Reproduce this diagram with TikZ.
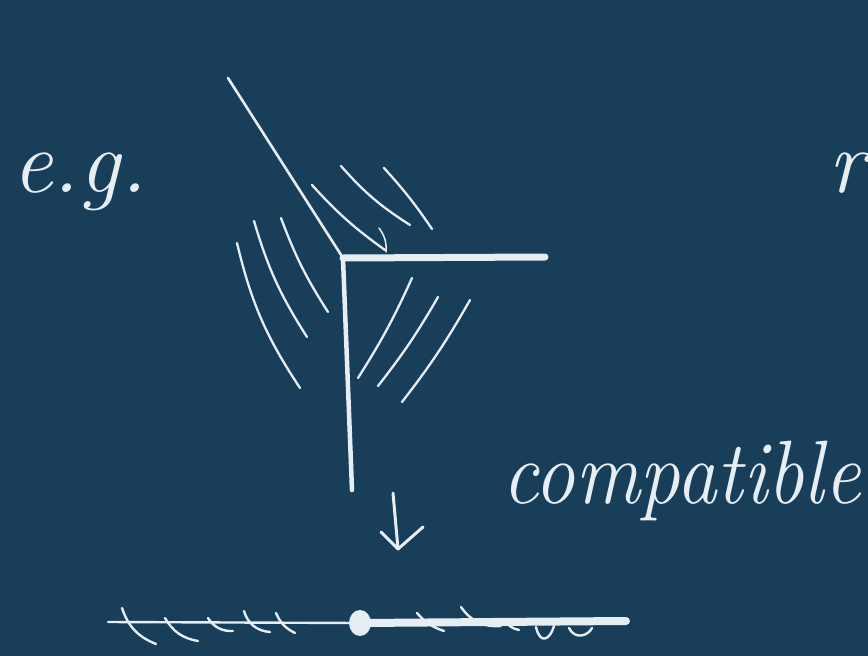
\documentclass[tikz,border=0pt]{standalone}
\definecolor{bg}{RGB}{24,62,90}
\definecolor{chalk}{RGB}{230,237,243}
\begin{document}
\begin{tikzpicture}[x=1pt,y=-1pt,
  stroke/.style={draw=chalk,line cap=round,line join=round,line width=2.3pt},
  mainline/.style={draw=chalk,line cap=round,line join=round,line width=4pt},
  handtext/.style={text=chalk,inner sep=0pt,font=\fontsize{90}{100}\selectfont\itshape}]
\useasboundingbox (0,0) rectangle (868,656);
\clip (0,0) rectangle (868,656);
\fill[bg] (0,0) rectangle (868,656);

% texts
\node[handtext,anchor=base west] (eg) at (12,192) {e.g.};
\node[handtext,anchor=base west] (compat) at (502,503) {\scalebox{0.9}[1]{compatible}};
\node[handtext,anchor=base west] (rpart) at (828,192) {r};

% corner figure
\coordinate (c) at (343,258);
\coordinate (diagtop) at (228,78);
\coordinate (hend) at (545,257);
\coordinate (vend) at (352,490);
\draw[stroke,line width=2.6pt] (diagtop) -- (c);
\draw[mainline,line width=7pt] (c) -- (hend);
\draw[mainline,line width=4.5pt] (c) -- (vend);

% hatches above
\draw[stroke] (312,185) to[bend right=6] (385,250);
\draw[stroke] (341,166) to[bend right=8] (410,225);
\draw[stroke] (384,168) to[bend left=4] (432,229);
\draw[stroke,line width=1.5pt] (379,228) to[bend left=20] (386,252);

% hatches left
\draw[stroke] (237,243) to[bend right=10] (300,388);
\draw[stroke] (254,221) to[bend right=8] (307,337);
\draw[stroke] (281,218) to[bend right=6] (328,312);

% hatches lower right
\draw[stroke] (412,278) to[bend left=4] (358,378);
\draw[stroke] (438,297) to[bend left=4] (378,386);
\draw[stroke] (470,300) to[bend left=4] (402,402);

% arrow
\coordinate (atop) at (393,493);
\coordinate (atip) at (398,549);
\draw[stroke,line width=3pt] (atop) -- (atip);
\draw[stroke,line width=3pt] (381,532) -- (atip) -- (423,527);

% bottom line
\coordinate (lstart) at (108,622);
\coordinate (dot) at (360,623);
\coordinate (lend) at (626,621);
\draw[stroke,line width=2.4pt] (lstart) -- (dot);
\draw[mainline,line width=8pt] (dot) -- (lend);
\fill[chalk] (dot) ellipse (11 and 13);

% ticks
\draw[stroke,line width=2.4pt] (122,608) to[bend right=25] (156,644);
\draw[stroke,line width=2.4pt] (165,618) to[bend right=25] (198,641);
\draw[stroke,line width=2.4pt] (208,618) to[bend right=30] (233,631);
\draw[stroke,line width=2.4pt] (244,611) to[bend right=35] (270,632);
\draw[stroke,line width=2.4pt] (276,613) to[bend right=20] (295,633);
\draw[stroke,line width=2.4pt] (417,613) to[bend right=15] (444,631);
\draw[stroke,line width=2.4pt] (461,607) to[bend right=30] (501,626);
\draw[stroke,line width=2.4pt] (504,619) to[bend right=25] (519,630);
\draw[stroke,line width=2.4pt] (536,627) .. controls (540,645) and (550,640) .. (554,626);
\draw[stroke,line width=2.4pt] (569,628) .. controls (575,640) and (588,636) .. (592,628);
\end{tikzpicture}
\end{document}
